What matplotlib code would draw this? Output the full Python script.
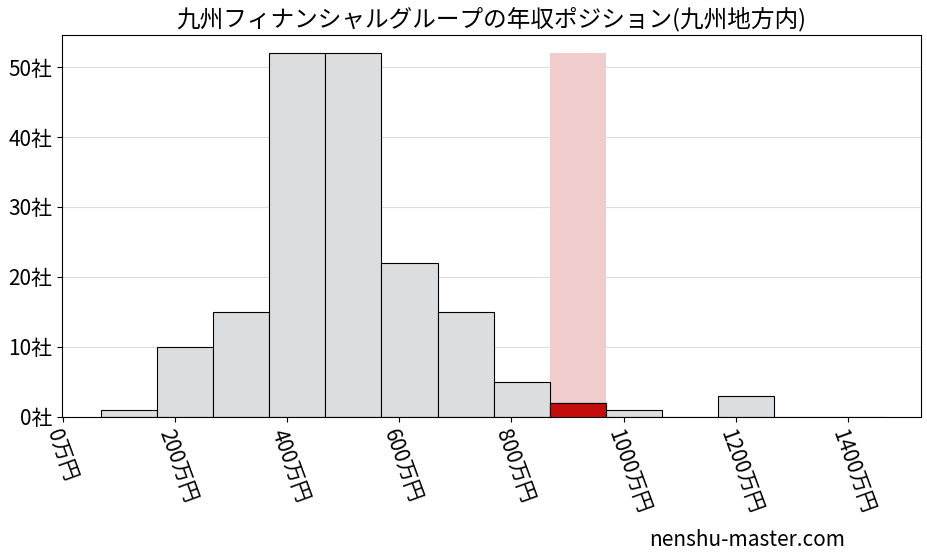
import matplotlib
matplotlib.use("Agg")
import matplotlib.pyplot as plt
import numpy as np

plt.rcParams['font.family'] = ['Noto Sans CJK JP', 'DejaVu Sans']

# histogram bins (万円) and company counts
bin_left = [68, 168, 268, 368, 468, 568, 668, 768, 868, 968, 1068, 1168, 1268, 1368]
counts = [1, 10, 15, 52, 52, 22, 15, 5, 2, 1, 0, 3, 0, 0]
highlight_bin = 868
xticks = [0, 200, 400, 600, 800, 1000, 1200, 1400]
yticks = [0, 10, 20, 30, 40, 50]

fig = plt.figure(figsize=(9.27, 5.57), dpi=100)
ax = fig.add_axes([0.067, 0.252, 0.926, 0.685])

ax.bar(bin_left, counts, width=100, align='edge', color='#dcdddf',
       edgecolor='black', linewidth=0.8, zorder=2)
ax.bar([highlight_bin], [max(counts)], width=100, align='edge',
       color='#f0cccc', zorder=1)
i = bin_left.index(highlight_bin)
ax.bar([highlight_bin], [counts[i]], width=100, align='edge',
       color='#c40c0c', edgecolor='black', linewidth=0.8, zorder=3)

ax.set_xlim(-2, 1530)
ax.set_ylim(0, 54.6)
ax.set_xticks(xticks)
ax.set_xticklabels([f"{v}万円" for v in xticks], rotation=-70, ha='left',
                   rotation_mode='anchor', fontsize=15)
ax.set_yticks(yticks)
ax.set_yticklabels([f"{v}社" for v in yticks], fontsize=15)
ax.grid(axis='y', color='#dddddd', linewidth=0.8, zorder=0)
ax.set_axisbelow(True)
ax.set_title("九州フィナンシャルグループの年収ポジション(九州地方内)", fontsize=17)

fig.text(0.70, 0.02, "nenshu-master.com", fontsize=15)
fig.savefig("out.png", dpi=100)
